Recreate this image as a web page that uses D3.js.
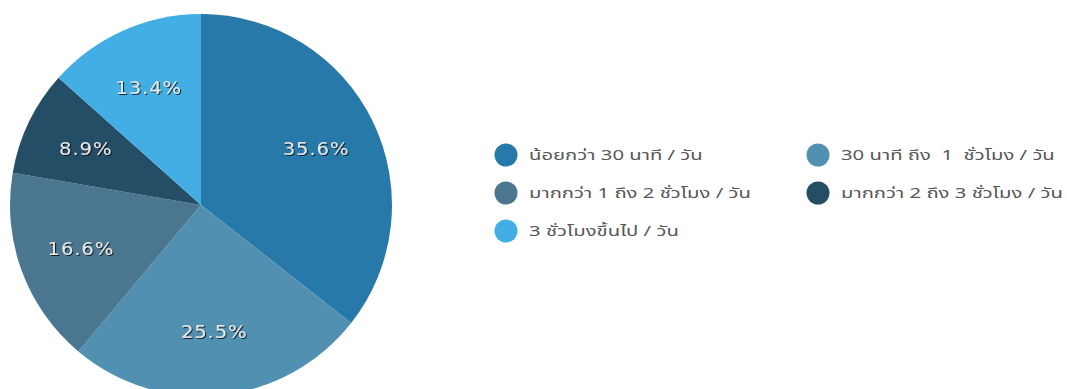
<!DOCTYPE html>
<html>
<head>
<meta charset="utf-8">
<script src="https://cdn.jsdelivr.net/npm/d3@7"></script>
<style>
  html, body { margin: 0; padding: 0; background: #ffffff; }
  svg { display: block; }
</style>
</head>
<body>
<svg id="chart" width="1067" height="389"></svg>
<script>
// Daily time spent, share of respondents
const categories = [
  "น้อยกว่า 30 นาที / วัน",
  "30 นาที ถึง  1  ชั่วโมง / วัน",
  "มากกว่า 1 ถึง 2 ชั่วโมง / วัน",
  "มากกว่า 2 ถึง 3 ชั่วโมง / วัน",
  "3 ชั่วโมงขึ้นไป / วัน"
];
const values = [35.6, 25.5, 16.6, 8.9, 13.4];
const colors = ["#2779aa", "#5190b0", "#4a768f", "#244e66", "#43aee3"];

const svg = d3.select("#chart");
const cx = 201, cy = 205, radius = 191;

const defs = svg.append("defs");
const f = defs.append("filter").attr("id", "lblShadow")
  .attr("x", "-20%").attr("y", "-20%").attr("width", "140%").attr("height", "140%");
f.append("feDropShadow").attr("dx", 1).attr("dy", 1)
  .attr("stdDeviation", 0.6).attr("flood-color", "#000").attr("flood-opacity", 0.75);

const color = d3.scaleOrdinal().domain(categories).range(colors);

const pie = d3.pie().sort(null).value(d => d.value);
const arcs = pie(categories.map((c, i) => ({ cat: c, value: values[i] })));

const arc = d3.arc().innerRadius(0).outerRadius(radius);
const labelArc = d3.arc().innerRadius(radius * 0.67).outerRadius(radius * 0.67);

const g = svg.append("g").attr("transform", `translate(${cx},${cy})`);

g.selectAll("path.slice")
  .data(arcs)
  .join("path")
  .attr("class", "slice")
  .attr("d", arc)
  .attr("fill", d => color(d.data.cat));

// Percentage labels, drawn in a slightly widened face
g.selectAll("text.pct")
  .data(arcs)
  .join("text")
  .attr("class", "pct")
  .attr("transform", d => `translate(${labelArc.centroid(d)}) scale(1.15,1)`)
  .attr("text-anchor", "middle")
  .attr("dy", "0.35em")
  .attr("font-family", "'DejaVu Sans', sans-serif")
  .attr("font-size", 17)
  .attr("letter-spacing", 0.8)
  .attr("fill", "#e6e6e6")
  .attr("filter", "url(#lblShadow)")
  .text(d => d3.format(".1f")(d.data.value) + "%");

// Legend: two columns, filled in row order
const legendX = [506, 818];
const legendY = [155, 193, 231];
const legend = svg.append("g")
  .selectAll("g.item")
  .data(categories)
  .join("g")
  .attr("class", "item")
  .attr("transform", (d, i) => `translate(${legendX[i % 2]},${legendY[Math.floor(i / 2)]})`);

legend.append("circle")
  .attr("r", 11.5)
  .attr("fill", d => color(d));

legend.append("text")
  .attr("transform", "translate(23,0) scale(1.45,1)")
  .attr("dy", "0.35em")
  .attr("font-family", "Tahoma, 'Noto Sans Thai', 'Noto Sans', sans-serif")
  .attr("font-size", 14)
  .attr("fill", "#585858")
  .style("white-space", "pre")
  .text(d => d);
</script>
</body>
</html>
